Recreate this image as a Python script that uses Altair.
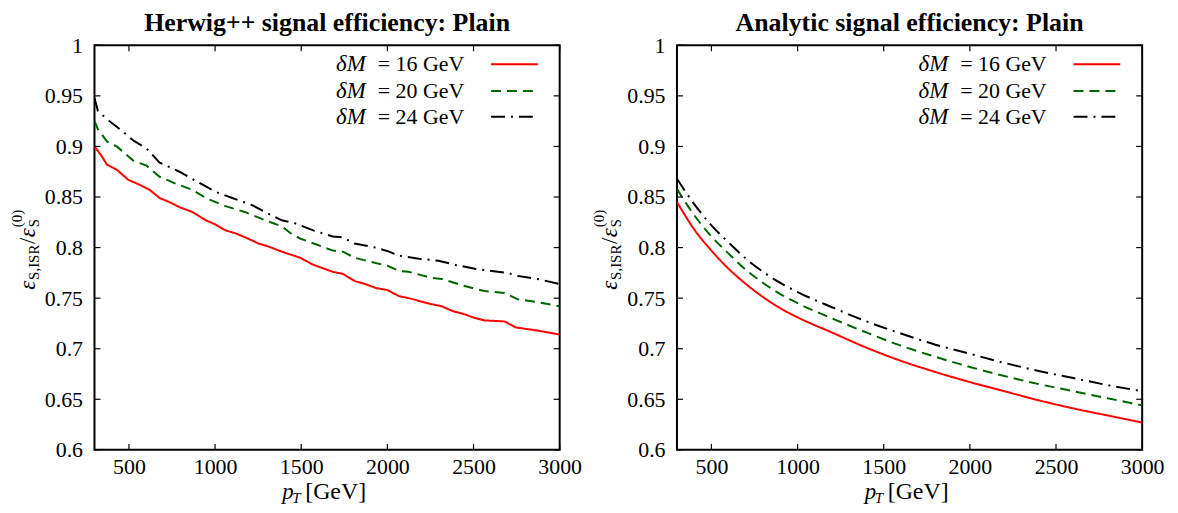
import altair as alt
import pandas as pd

# ---------------- data ----------------
series_names = ["dM16", "dM20", "dM24"]
legend_values = ["16", "20", "24"]
colors = ["#ff0000", "#006400", "#000000"]
dashes = [[1, 0], [10, 6], [14, 6, 2, 6]]

x_ticks = [500, 1000, 1500, 2000, 2500, 3000]
y_ticks = [0.6, 0.65, 0.7, 0.75, 0.8, 0.85, 0.9, 0.95, 1.0]

# Herwig++ (left panel)
h16_pt = [300, 340, 372, 429, 496, 563, 621, 678, 735, 793, 870, 946, 1000, 1061, 1120,
          1176, 1253, 1310, 1387, 1440, 1493, 1570, 1684, 1742, 1809, 1870, 1933, 2000,
          2067, 2124, 2190, 2258, 2315, 2382, 2449, 2497, 2564, 2679, 2746, 2870, 3000]
h16_eff = [0.900, 0.891, 0.882, 0.877, 0.867, 0.862, 0.857, 0.849, 0.845, 0.840, 0.835,
           0.827, 0.823, 0.817, 0.814, 0.810, 0.804, 0.801, 0.796, 0.793, 0.790, 0.783,
           0.776, 0.774, 0.767, 0.764, 0.760, 0.758, 0.752, 0.750, 0.747, 0.744, 0.742,
           0.737, 0.734, 0.731, 0.728, 0.727, 0.721, 0.718, 0.714]

h20_pt = [300, 320, 372, 429, 525, 602, 678, 774, 870, 946, 1061, 1176, 1291, 1387, 1440,
          1493, 1589, 1684, 1742, 1809, 1900, 2000, 2067, 2124, 2258, 2315, 2449, 2564,
          2679, 2755, 2870, 3000]
h20_eff = [0.925, 0.917, 0.905, 0.900, 0.886, 0.881, 0.870, 0.863, 0.857, 0.849, 0.841,
           0.835, 0.827, 0.821, 0.814, 0.809, 0.803, 0.797, 0.796, 0.790, 0.786, 0.782,
           0.777, 0.776, 0.770, 0.769, 0.762, 0.757, 0.755, 0.749, 0.746, 0.742]

h24_pt = [300, 320, 372, 448, 525, 602, 678, 793, 908, 1004, 1100, 1215, 1291, 1387, 1464,
          1570, 1684, 1742, 1809, 1933, 2010, 2067, 2182, 2296, 2392, 2507, 2641, 2698,
          2755, 2870, 3000]
h24_eff = [0.948, 0.935, 0.927, 0.917, 0.906, 0.898, 0.884, 0.875, 0.864, 0.855, 0.849,
           0.842, 0.835, 0.827, 0.824, 0.817, 0.811, 0.810, 0.804, 0.800, 0.796, 0.792,
           0.789, 0.787, 0.783, 0.779, 0.776, 0.775, 0.772, 0.769, 0.764]

# Analytic (right panel)
a_pt = [300, 400, 500, 600, 700, 800, 900, 1000, 1200, 1400, 1600, 1800, 2000, 2200,
        2400, 2600, 2800, 3000]
a16_eff = [0.845, 0.818, 0.797, 0.779, 0.764, 0.751, 0.740, 0.731, 0.716, 0.701, 0.688,
           0.677, 0.667, 0.658, 0.649, 0.641, 0.634, 0.627]
a20_eff = [0.858, 0.832, 0.811, 0.794, 0.778, 0.765, 0.754, 0.745, 0.730, 0.716, 0.703,
           0.692, 0.682, 0.673, 0.665, 0.658, 0.651, 0.644]
a24_eff = [0.868, 0.843, 0.822, 0.805, 0.789, 0.776, 0.765, 0.756, 0.741, 0.727, 0.715,
           0.704, 0.695, 0.686, 0.678, 0.671, 0.664, 0.658]

# ---------------- layout constants ----------------
W, H = 468, 407
FONT = "Liberation Serif"
one = pd.DataFrame({"k": [0]})

X_AXIS = alt.Axis(values=x_ticks, format="d", title=None, ticks=False, tickSize=0,
                  grid=False, domain=False, labelPadding=7, labelFont=FONT,
                  labelFontSize=22, labelColor="black", labelFlush=False)
Y_AXIS = alt.Axis(values=y_ticks, format=".2~f", title=None, ticks=False, tickSize=0,
                  grid=False, domain=False, labelPadding=12, labelFont=FONT,
                  labelFontSize=22, labelColor="black", labelFlush=False)


def panel(title, xs_list, ys_list, interp):
    rows = []
    for name, xs, ys in zip(series_names, xs_list, ys_list):
        for x, y in zip(xs, ys):
            rows.append({"pt": x, "eff": y, "series": name})
    df = pd.DataFrame(rows)
    xsc = alt.Scale(domain=[300, 3000], nice=False, zero=False)
    ysc = alt.Scale(domain=[0.6, 1.0], nice=False, zero=False)

    lines = alt.Chart(df).mark_line(strokeWidth=2, clip=True, interpolate=interp).encode(
        x=alt.X("pt:Q", scale=xsc, axis=X_AXIS),
        y=alt.Y("eff:Q", scale=ysc, axis=Y_AXIS),
        color=alt.Color("series:N", scale=alt.Scale(domain=series_names, range=colors),
                        legend=None),
        strokeDash=alt.StrokeDash("series:N",
                                  scale=alt.Scale(domain=series_names, range=dashes),
                                  legend=None),
    )

    xt = pd.DataFrame({"pt": x_ticks})
    yt = pd.DataFrame({"eff": y_ticks})
    tick_style = dict(color="black", strokeWidth=1.2)
    xb = alt.Chart(xt).mark_rule(**tick_style).encode(
        x=alt.X("pt:Q", scale=xsc, axis=X_AXIS), y=alt.value(H), y2=alt.value(H - 6))
    xtop = alt.Chart(xt).mark_rule(**tick_style).encode(
        x=alt.X("pt:Q", scale=xsc, axis=X_AXIS), y=alt.value(0), y2=alt.value(6))
    yl = alt.Chart(yt).mark_rule(**tick_style).encode(
        y=alt.Y("eff:Q", scale=ysc, axis=Y_AXIS), x=alt.value(0), x2=alt.value(6))
    yr = alt.Chart(yt).mark_rule(**tick_style).encode(
        y=alt.Y("eff:Q", scale=ysc, axis=Y_AXIS), x=alt.value(W), x2=alt.value(W - 6))

    layers = [lines, xb, xtop, yl, yr]

    # legend (top right, labels left of line samples)
    rows_y = [19, 46, 72]
    for val, col, dash, ry in zip(legend_values, colors, dashes, rows_y):
        layers.append(alt.Chart(one).mark_rule(strokeWidth=2).encode(
            x=alt.value(399), x2=alt.value(446), y=alt.value(ry),
            color=alt.value(col), strokeDash=alt.value(dash)))
        layers.append(alt.Chart(one).mark_text(
            font=FONT, fontSize=23, fontStyle="italic", align="left",
            baseline="middle", color="black").encode(
            x=alt.value(243), y=alt.value(ry), text=alt.value("δM")))
        layers.append(alt.Chart(one).mark_text(
            font=FONT, fontSize=22, align="left", baseline="middle",
            color="black").encode(
            x=alt.value(285), y=alt.value(ry), text=alt.value("= " + val + " GeV")))

    # x-axis title: p_T [GeV]
    layers.append(alt.Chart(one).mark_text(
        font=FONT, fontSize=23, fontStyle="italic", align="left",
        baseline="alphabetic", color="black").encode(
        x=alt.value(189), y=alt.value(456), text=alt.value("p")))
    layers.append(alt.Chart(one).mark_text(
        font=FONT, fontSize=15, fontStyle="italic", align="left",
        baseline="alphabetic", color="black").encode(
        x=alt.value(199), y=alt.value(460), text=alt.value("T")))
    layers.append(alt.Chart(one).mark_text(
        font=FONT, fontSize=24, align="left",
        baseline="alphabetic", color="black").encode(
        x=alt.value(212), y=alt.value(456), text=alt.value("[GeV]")))

    # y-axis title: eps_{S,ISR} / eps_S^{(0)}  (rotated)
    ytitle_parts = [
        ("ε", 23, "italic", -60, 246),
        ("S,ISR", 15, "normal", -56, 236),
        ("/", 23, "normal", -60, 200),
        ("ε", 23, "italic", -60, 193),
        ("S", 15, "normal", -56, 183),
        ("(0)", 15, "normal", -73, 183),
    ]
    for txt, fs, style, px, py in ytitle_parts:
        layers.append(alt.Chart(one).mark_text(
            font=FONT, fontSize=fs, fontStyle=style, angle=270, align="left",
            baseline="alphabetic", color="black").encode(
            x=alt.value(px), y=alt.value(py), text=alt.value(txt)))

    return alt.layer(*layers).properties(
        width=W, height=H,
        title=alt.TitleParams(text=title, font=FONT, fontSize=26, fontWeight="bold",
                              anchor="middle", color="black", offset=-23,
                              baseline="alphabetic"),
    )


left = panel("Herwig++ signal efficiency: Plain",
             [h16_pt, h20_pt, h24_pt], [h16_eff, h20_eff, h24_eff], "linear")
right = panel("Analytic signal efficiency: Plain",
              [a_pt, a_pt, a_pt], [a16_eff, a20_eff, a24_eff], "monotone")

chart = alt.hconcat(left, right, spacing=118, bounds="flush").properties(
    padding={"left": 1, "top": 0, "right": 5, "bottom": 5},
    background="white",
).configure_view(stroke="black", strokeWidth=2)

chart.save("out.html", embed_options={"renderer": "svg", "actions": False})
